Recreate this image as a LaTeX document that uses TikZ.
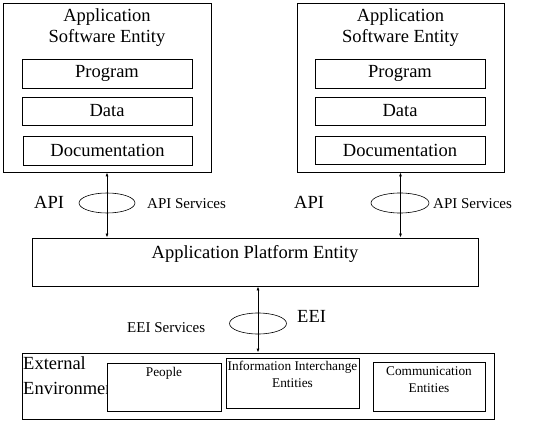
\documentclass[tikz,border=0pt]{standalone}
\usepackage{fontspec}
\setmainfont{Liberation Serif}
\usetikzlibrary{arrows.meta}
\tikzset{
  box/.style={draw,line width=0.8pt,inner sep=0pt},
  lbl/.style={inner sep=0pt,font=\fontsize{18.5}{21}\selectfont},
  svc/.style={inner sep=0pt,font=\fontsize{15}{18}\selectfont},
  tiny/.style={inner sep=0pt,font=\fontsize{13.3}{17}\selectfont,align=center},
  link/.style={{Latex[length=4pt,width=3pt]}-{Latex[length=4pt,width=3pt]},line width=0.8pt}
}

\begin{document}
\begin{tikzpicture}[x=1pt,y=-1pt]
        \useasboundingbox (0,0) rectangle (533,422);
        % application software entities
        \node[box,minimum width=208,minimum height=169] (asw1) at (107,87.5) {};
        \node[lbl,align=center,anchor=north] (asw1t) at (107,8) {Application\\Software Entity};
        \node[box,lbl,minimum width=170,minimum height=29] (prog1) at (107,73.5) {Program};
        \node[box,lbl,minimum width=170,minimum height=28] (data1) at (107,111) {Data};
        \node[box,lbl,minimum width=169,minimum height=29] (doc1) at (107.5,150.5) {Documentation};
        \node[box,minimum width=207,minimum height=169] (asw2) at (400.5,87.5) {};
        \node[lbl,align=center,anchor=north] (asw2t) at (400.5,8) {Application\\Software Entity};
        \node[box,lbl,minimum width=170,minimum height=29] (prog2) at (400,73.5) {Program};
        \node[box,lbl,minimum width=170,minimum height=28] (data2) at (400,111) {Data};
        \node[box,lbl,minimum width=170,minimum height=28] (doc2) at (400,150) {Documentation};
        % platform
        \node[box,minimum width=446,minimum height=48] (ape) at (255,262) {};
        \node[lbl,anchor=base] (apet) at (255,259) {Application Platform Entity};
        % API
        \draw[link] (asw1.south) -- (asw1.south |- ape.north);
        \draw[link] (asw2.south) -- (asw2.south |- ape.north);
        \draw[line width=0.6pt] (107,203) ellipse [x radius=28,y radius=10];
        \draw[line width=0.6pt] (400,203) ellipse [x radius=29,y radius=10];
        \node[lbl,anchor=base west] (api1) at (34,209) {API};
        \node[svc,anchor=base west] (apis1) at (147,209) {API Services};
        \node[lbl,anchor=base west] (api2) at (294,209) {API};
        \node[svc,anchor=base west] (apis2) at (433,209) {API Services};
        % external environment
        \node[box,minimum width=472,minimum height=66] (ext) at (258,386) {};
        \node[lbl,align=left,anchor=north west,font=\fontsize{18.5}{25}\selectfont] (extt) at (23,356) {External\\Environment};
        \node[box,fill=white,minimum width=114,minimum height=48] (people) at (164,387) {};
        \node[tiny,anchor=base] (peoplet) at (164,376) {People};
        \node[box,minimum width=133,minimum height=50] (info) at (292.5,383) {};
        \node[tiny,anchor=north] (infot) at (292.5,361) {Information Interchange\\Entities};
        \node[box,minimum width=112,minimum height=49] (comm) at (429,386.5) {};
        \node[tiny,anchor=north] (commt) at (429,366) {Communication\\Entities};
        % EEI
        \draw[link] (ape.south -| ext.north) -- (ext.north);
        \draw[line width=0.6pt] (258,323.5) ellipse [x radius=28.5,y radius=10.5];
        \node[svc,anchor=base west] (eeis) at (127,332) {EEI Services};
        \node[lbl,anchor=base west] (eei) at (297,323) {EEI};
\end{tikzpicture}
\end{document}
